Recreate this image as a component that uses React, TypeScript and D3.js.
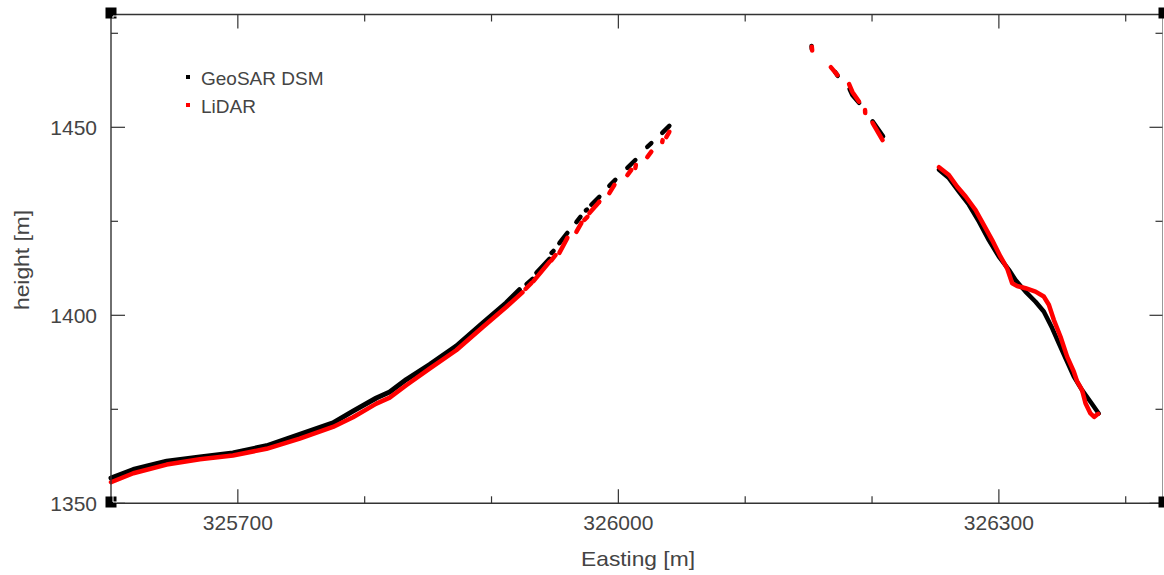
import React from 'react';
import * as d3 from 'd3';

type Pt = [number, number];

const W = 1164;
const HGT = 575;
const PLOT = { left: 111, right: 1162.5, top: 14.5, bottom: 503.3 };

const xDomain: [number, number] = [325600, 326429];
const yDomain: [number, number] = [1350, 1480];
const xMajorTicks = [325700, 326000, 326300];
const xMinorTicks = [325800, 325900, 326100, 326200, 326400];
const yMajorTicks = [1350, 1400, 1450];
const yMinorTicks = [1375, 1425, 1475];

const legendLabels = ['GeoSAR DSM', 'LiDAR'];
const seriesColors = ['#000000', '#ff0000'];

// GeoSAR DSM, continuous western profile (Easting, height)
const geosarProfile: Pt[] = [
  [325600, 1356.7], [325617.6, 1359.0], [325643.9, 1361.2], [325670.1, 1362.3],
  [325696.1, 1363.4], [325722.6, 1365.3], [325748.8, 1368.3], [325775.0, 1371.4],
  [325790.8, 1374.5], [325809.2, 1378.0], [325819.7, 1379.6], [325832.8, 1382.9],
  [325851.2, 1386.9], [325872.2, 1391.8], [325893.2, 1398.0], [325911.6, 1403.3],
  [325922.0, 1406.8],
];

// GeoSAR DSM, broken fragments
const geosarFragments: Pt[][] = [
  [[325927.6, 1408.3], [325932.3, 1409.7]],
  [[325935.4, 1411.3], [325945.7, 1415.0]],
  [[325947.4, 1416.6], [325948.8, 1417.1]],
  [[325953.5, 1419.2], [325959.8, 1421.9]],
  [[325966.9, 1424.8], [325970.1, 1426.2]],
  [[325974.4, 1427.9], [325975.2, 1428.1]],
  [[325978.7, 1429.4], [325985.0, 1431.5]],
  [[325992.9, 1434.4], [325997.6, 1436.0]],
  [[326007.1, 1439.2], [326013.4, 1441.3]],
  [[326022.8, 1444.8], [326026.0, 1445.8]],
  [[326034.6, 1448.5], [326040.2, 1450.4]],
  [[326152.3, 1471.6], [326152.5, 1470.8]],
  [[326170.9, 1464.7], [326172.9, 1463.7]],
  [[326182.3, 1460.2], [326184.5, 1458.6], [326189.8, 1456.5]],
  [[326200.4, 1451.6], [326208.7, 1447.6]],
  [
    [326252.8, 1438.7], [326260.6, 1436.5], [326268.5, 1432.9], [326276.4, 1429.4],
    [326284.3, 1424.9], [326292.1, 1420.0], [326300.0, 1415.6], [326307.9, 1412.1],
    [326313.1, 1409.4], [326321.0, 1406.3], [326328.9, 1403.6], [326335.4, 1401.0],
    [326342.0, 1396.6], [326347.2, 1392.6], [326352.5, 1388.6], [326359.1, 1383.7],
    [326365.6, 1380.1], [326372.2, 1377.0], [326378.7, 1373.9],
  ],
];

// LiDAR, continuous western profile
const lidarProfile: Pt[] = [
  [325600, 1355.6], [325617.6, 1358.0], [325643.9, 1360.3], [325670.1, 1361.7],
  [325696.1, 1362.7], [325722.6, 1364.5], [325748.8, 1367.2], [325775.0, 1370.3],
  [325790.8, 1372.9], [325809.2, 1376.5], [325819.7, 1378.1], [325832.8, 1381.4],
  [325851.2, 1385.8], [325872.2, 1390.7], [325893.2, 1396.9], [325911.6, 1402.2],
  [325924.4, 1406.1],
];

// LiDAR, broken fragments
const lidarFragments: Pt[][] = [
  [[325926.8, 1407.0], [325931.5, 1408.6]],
  [[325933.1, 1409.1], [325945.7, 1414.2]],
  [[325947.2, 1414.6], [325950.4, 1416.0]],
  [[325953.5, 1416.6], [325959.8, 1420.6]],
  [[325966.9, 1422.2], [325970.9, 1424.6]],
  [[325973.2, 1425.4], [325975.6, 1426.2]],
  [[325977.2, 1427.2], [325985.0, 1430.2]],
  [[325992.9, 1432.5], [325996.9, 1434.7]],
  [[326007.1, 1437.3], [326010.2, 1438.7]],
  [[326013.4, 1439.2], [326013.8, 1440.0]],
  [[326022.8, 1442.1], [326026.0, 1443.5]],
  [[326034.6, 1446.1], [326034.9, 1446.6]],
  [[326037.8, 1447.4], [326040.2, 1448.8]],
  [[326152.5, 1471.4], [326152.8, 1470.4]],
  [[326167.5, 1466.0], [326172.7, 1463.9]],
  [[326181.9, 1461.5], [326184.5, 1459.4], [326189.8, 1456.8]],
  [[326194.5, 1454.6], [326194.6, 1453.8]],
  [[326200.4, 1451.2], [326208.3, 1446.6]],
  [
    [326252.8, 1439.4], [326260.6, 1437.3], [326267.2, 1434.2], [326273.8, 1431.6],
    [326281.6, 1428.0], [326288.2, 1424.0], [326294.7, 1420.0], [326301.3, 1415.6],
    [326306.5, 1412.5], [326310.5, 1408.5], [326314.4, 1407.8], [326321.0, 1407.2],
    [326328.9, 1406.3], [326335.4, 1405.0], [326339.4, 1402.8], [326343.3, 1398.8],
    [326348.6, 1394.3], [326353.8, 1389.0], [326359.1, 1385.0], [326361.7, 1382.4],
    [326365.6, 1380.1], [326368.3, 1376.6], [326372.2, 1373.9], [326375.1, 1373.0],
    [326378.3, 1373.8],
  ],
];

const FONT = '"Liberation Sans", Arial, sans-serif';
const AXIS_COLOR = '#333';
const TEXT_COLOR = '#444';

export default function App() {
  const x = d3.scaleLinear().domain(xDomain).range([PLOT.left, PLOT.right]);
  const y = d3.scaleLinear().domain(yDomain).range([PLOT.bottom, PLOT.top]);
  const line = d3.line<Pt>().x((d) => x(d[0])).y((d) => y(d[1]));

  const series = [
    { profile: geosarProfile, fragments: geosarFragments, color: seriesColors[0], w: 5 },
    { profile: lidarProfile, fragments: lidarFragments, color: seriesColors[1], w: 4.5 },
  ];

  const corners: [number, number][] = [
    [PLOT.left, 13],
    [PLOT.left, 502],
    [1164, 13],
    [1164, 502],
  ];

  return (
    <svg
      width={W}
      height={HGT}
      viewBox={`0 0 ${W} ${HGT}`}
      style={{ position: 'absolute', left: 0, top: 0, background: '#fff' }}
    >
      <rect x={0} y={0} width={W} height={HGT} fill="#fff" />

      {/* data */}
      <g fill="none" strokeLinecap="round" strokeLinejoin="round">
        {series.map((s, i) => (
          <g key={i} stroke={s.color}>
            <path d={line(s.profile) || ''} strokeWidth={s.w} />
            {s.fragments.map((f, j) => (
              <path key={j} d={line(f) || ''} strokeWidth={4.5} />
            ))}
          </g>
        ))}
      </g>

      {/* frame */}
      <g stroke={AXIS_COLOR} strokeWidth={1.4} fill="none">
        <line x1={PLOT.left} x2={PLOT.right} y1={PLOT.top} y2={PLOT.top} />
        <line x1={PLOT.left} x2={PLOT.right} y1={PLOT.bottom} y2={PLOT.bottom} />
        <line x1={PLOT.left} x2={PLOT.left} y1={PLOT.top} y2={PLOT.bottom} />
        <line x1={PLOT.right} x2={PLOT.right} y1={PLOT.top} y2={PLOT.bottom} stroke="#999" strokeWidth={1} />
      </g>

      {/* ticks */}
      <g stroke={AXIS_COLOR} strokeWidth={1.2}>
        {xMajorTicks.map((t) => (
          <g key={'xM' + t}>
            <line x1={x(t)} x2={x(t)} y1={PLOT.bottom} y2={PLOT.bottom - 14} />
            <line x1={x(t)} x2={x(t)} y1={PLOT.top} y2={PLOT.top + 14} />
          </g>
        ))}
        {xMinorTicks.map((t) => (
          <g key={'xm' + t}>
            <line x1={x(t)} x2={x(t)} y1={PLOT.bottom} y2={PLOT.bottom - 7} />
            <line x1={x(t)} x2={x(t)} y1={PLOT.top} y2={PLOT.top + 7} />
          </g>
        ))}
        {yMajorTicks.map((t) => (
          <g key={'yM' + t}>
            <line x1={PLOT.left} x2={PLOT.left + 14} y1={y(t)} y2={y(t)} />
            <line x1={PLOT.right} x2={PLOT.right - 13} y1={y(t)} y2={y(t)} />
          </g>
        ))}
        {yMinorTicks.map((t) => (
          <g key={'ym' + t}>
            <line x1={PLOT.left} x2={PLOT.left + 7} y1={y(t)} y2={y(t)} />
            <line x1={PLOT.right} x2={PLOT.right - 7} y1={y(t)} y2={y(t)} />
          </g>
        ))}
      </g>

      {/* corner markers */}
      {corners.map(([cx, cy], i) => (
        <rect key={i} x={cx - 5.5} y={cy - 5.5} width={11} height={11} fill="#000" />
      ))}
      <polyline points="113,18 113,16 117,16" fill="none" stroke="#fff" strokeWidth={1} />
      <polyline points="113,496 113,502 117,502" fill="none" stroke="#fff" strokeWidth={1} />

      {/* tick labels */}
      <g fontFamily={FONT} fontSize={21} fill={TEXT_COLOR}>
        {xMajorTicks.map((t) => (
          <text key={'xl' + t} x={x(t)} y={529.5} textAnchor="middle">
            {d3.format('d')(t)}
          </text>
        ))}
        {yMajorTicks.map((t) => (
          <text key={'yl' + t} x={97} y={y(t) + 7.5} textAnchor="end">
            {d3.format('d')(t)}
          </text>
        ))}
      </g>

      {/* axis titles */}
      <g fontFamily={FONT} fontSize={21} fill={TEXT_COLOR}>
        <text x={638} y={566} textAnchor="middle" textLength={114} lengthAdjust="spacingAndGlyphs">
          Easting [m]
        </text>
        <text
          transform="translate(29,260) rotate(-90)"
          textAnchor="middle"
          textLength={100}
          lengthAdjust="spacingAndGlyphs"
        >
          height [m]
        </text>
      </g>

      {/* legend */}
      <g fontFamily={FONT} fontSize={19} fill={TEXT_COLOR}>
        {legendLabels.map((lab, i) => (
          <g key={lab}>
            <rect x={186} y={75 + i * 28} width={4} height={4} fill={seriesColors[i]} />
            <text x={201} y={84.5 + i * 28}>
              {lab}
            </text>
          </g>
        ))}
      </g>
    </svg>
  );
}
